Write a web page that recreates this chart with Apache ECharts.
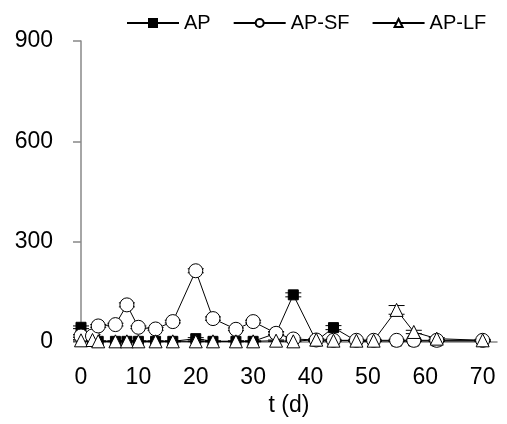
<!DOCTYPE html>
<html>
<head>
    <meta charset="UTF-8" />
    <title>AP / AP-SF / AP-LF</title>
    <script src="https://cdn.jsdelivr.net/npm/echarts@6/dist/echarts.min.js"></script>
    <style>
        html, body { margin: 0; padding: 0; background: #fff; }
        #chart { width: 507px; height: 424px; }
    </style>
</head>
<body>
<div id="chart"></div>
<script type="text/javascript">
    // 采样时间 (d)
    var days = [0, 2, 3, 6, 8, 10, 13, 16, 20, 23, 27, 30, 34, 37, 41, 44, 48, 51, 55, 58, 62, 70];
    // 各组数值
    var apVals = [44, 3, 2, 2, 2, 2, 2, 2, 10, 2, 2, 2, 26, 141, 3, 43, 3, 3, 3, 3, 3, 3];
    var sfVals = [18, 18, 48, 52, 111, 44, 39, 61, 213, 70, 38, 61, 26, 9, 6, 5, 5, 5, 5, 5, 5, 5];
    var lfVals = [5, 6, 2, 2, 2, 2, 2, 2, 2, 2, 2, 2, 4, 2, 7, 4, 4, 4, 96, 30, 10, 5];
    // 误差
    var apErr = [4, 1, 1, 1, 1, 1, 1, 1, 3, 1, 1, 1, 5, 6, 1, 6, 1, 1, 1, 1, 1, 1];
    var sfErr = [4, 4, 4, 4, 6, 4, 4, 4, 6, 5, 4, 4, 4, 3, 3, 3, 3, 3, 3, 3, 3, 3];
    var lfErr = [2, 2, 1, 1, 1, 1, 1, 1, 1, 1, 1, 1, 2, 1, 2, 2, 2, 2, 13, 5, 3, 2];
    var yTicks = [0, 300, 600, 900];

    function pairs(vals) {
        var out = [];
        for (var i = 0; i < days.length; i++) out.push([days[i], vals[i]]);
        return out;
    }
    function errData(vals, errs) {
        var out = [];
        for (var i = 0; i < days.length; i++) out.push([days[i], vals[i] - errs[i], vals[i] + errs[i]]);
        return out;
    }
    //误差线
    function errSeries(vals, errs) {
        return {
            type: 'custom',
            data: errData(vals, errs),
            z: 1,
            silent: true,
            renderItem: function (params, api) {
                var lo = api.coord([api.value(0), api.value(1)]);
                var hi = api.coord([api.value(0), api.value(2)]);
                var w = 8;
                var st = { stroke: '#000', lineWidth: 1 };
                return {
                    type: 'group',
                    children: [
                        { type: 'line', shape: { x1: lo[0], y1: lo[1], x2: hi[0], y2: hi[1] }, style: st },
                        { type: 'line', shape: { x1: lo[0] - w, y1: lo[1], x2: lo[0] + w, y2: lo[1] }, style: st },
                        { type: 'line', shape: { x1: hi[0] - w, y1: hi[1], x2: hi[0] + w, y2: hi[1] }, style: st }
                    ]
                };
            }
        };
    }
    function lineSeries(name, vals, symbol, size, fill) {
        return {
            name: name,
            type: 'line',
            data: pairs(vals),
            symbol: symbol,
            symbolSize: size,
            showAllSymbol: true,
            z: 3,
            lineStyle: { color: '#000', width: 1 },
            itemStyle: { color: fill, borderColor: '#000', borderWidth: 1 }
        };
    }

    var myChart = echarts.init(document.getElementById('chart'));
    var font = 'Liberation Sans, Arial, sans-serif';
    var option = {
        animation: false,
        grid: { left: 81, right: 10, top: 41, bottom: 82 },
        legend: {
            top: 8,
            left: 121,
            itemWidth: 52,
            itemHeight: 10,
            itemGap: 22,
            textStyle: { fontFamily: font, fontSize: 20, color: '#000' },
            data: ['AP', 'AP-SF', 'AP-LF']
        },
        xAxis: {
            type: 'value',
            min: 0,
            max: 72.5,
            interval: 10,
            name: 't (d)',
            nameLocation: 'middle',
            nameGap: 45,
            nameTextStyle: { fontFamily: font, fontSize: 23, color: '#000' },
            axisLine: { lineStyle: { color: '#888', width: 1.5 } },
            axisTick: { show: false },
            splitLine: { show: false },
            axisLabel: { fontFamily: font, fontSize: 23, color: '#000', margin: 24, showMaxLabel: false }
        },
        yAxis: {
            type: 'value',
            min: yTicks[0],
            max: yTicks[yTicks.length - 1],
            interval: 300,
            axisLine: { show: true, lineStyle: { color: '#888', width: 1.5 } },
            axisTick: { show: true, length: 8, lineStyle: { color: '#888', width: 1.5 } },
            splitLine: { show: false },
            axisLabel: { fontFamily: font, fontSize: 23, color: '#000', margin: 28 }
        },
        series: [
            errSeries(apVals, apErr),
            errSeries(sfVals, sfErr),
            errSeries(lfVals, lfErr),
            lineSeries('AP', apVals, 'rect', 10, '#000'),
            lineSeries('AP-SF', sfVals, 'circle', 14, '#fff'),
            lineSeries('AP-LF', lfVals, 'triangle', 13, '#fff')
        ]
    };
    myChart.setOption(option);
</script>
</body>
</html>
